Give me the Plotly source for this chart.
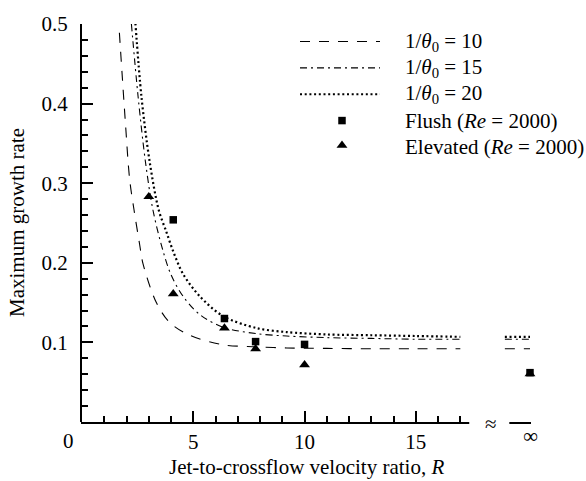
import numpy as np
import plotly.graph_objects as go

# ---------------------------------------------------------------------------
# Data: maximum growth rate vs jet-to-crossflow velocity ratio R
# ---------------------------------------------------------------------------
# Model curves for three inverse momentum thicknesses 1/theta_0
R_THETA10 = [1.68, 1.95, 2.14, 2.34, 2.59, 2.74, 3.34, 3.94, 4.84, 6.34, 7.84, 9.2, 11.0, 13.0, 15.0, 17.0]
G_THETA10 = [0.489, 0.376, 0.305, 0.266, 0.223, 0.199, 0.150, 0.125, 0.109, 0.097, 0.0945, 0.093, 0.0925, 0.092, 0.092, 0.092]

R_THETA15 = [2.22, 2.52, 2.85, 3.19, 3.64, 4.0, 4.54, 5.29, 6.34, 7.84, 9.2, 11.0, 13.0, 15.0, 17.0]
G_THETA15 = [0.500, 0.409, 0.327, 0.266, 0.215, 0.185, 0.158, 0.135, 0.119, 0.111, 0.108, 0.106, 0.105, 0.104, 0.104]

R_THETA20 = [2.40, 2.67, 3.04, 3.45, 3.79, 4.09, 4.54, 5.29, 6.34, 7.84, 9.19, 11.0, 13.0, 15.0, 17.0]
G_THETA20 = [0.501, 0.409, 0.327, 0.266, 0.239, 0.215, 0.186, 0.158, 0.133, 0.118, 0.113, 0.110, 0.109, 0.108, 0.107]

# Limit values of the curves as R -> infinity
G_INF_THETA10 = 0.092
G_INF_THETA15 = 0.104
G_INF_THETA20 = 0.107

# Simulations (np.inf marks the free-jet limit R -> infinity)
FLUSH_R = [4.1, 6.4, 7.8, 10.0, np.inf]
FLUSH_G = [0.254, 0.130, 0.101, 0.0975, 0.062]

ELEVATED_R = [3.0, 4.1, 6.4, 7.8, 10.0, np.inf]
ELEVATED_G = [0.283, 0.161, 0.118, 0.092, 0.0718, 0.0605]

# Axis ticks
X_MAJOR = [0, 5, 10, 15]
X_MAJOR_TEXT = ["", "5", "10", "15"]
X_MINOR = [1, 2, 3, 4, 6, 7, 8, 9, 11, 12, 13, 14, 16, 17]
Y_MAJOR = [0.1, 0.2, 0.3, 0.4, 0.5]
Y_MAJOR_TEXT = ["0.1", "0.2", "0.3", "0.4", "0.5"]
Y_MINOR = [k / 100 for k in range(2, 50, 2) if k % 10]

LEGEND_LABELS = [
    "1/<i>θ</i><sub>0</sub> = 10",
    "1/<i>θ</i><sub>0</sub> = 15",
    "1/<i>θ</i><sub>0</sub> = 20",
    "Flush (<i>Re</i> = 2000)",
    "Elevated (<i>Re</i> = 2000)",
]

# ---------------------------------------------------------------------------
# Layout geometry (pixels)
# ---------------------------------------------------------------------------
FIG_W, FIG_H = 586, 481
M_L, M_R, M_T, M_B = 82, 56, 14, 59
PLOT_W = FIG_W - M_L - M_R
PLOT_H = FIG_H - M_T - M_B

X_INF = 20.13            # axis position used for R = infinity
MAIN_END = 17.4          # end of the continuous part of the R axis
INF_START = 19.2         # start of the short axis piece carrying the infinity tick
TAIL_START = 19.0        # curves resume here in the infinity piece

FONT = "Liberation Serif"
FS = 21


def xpos(r):
    return X_INF if np.isinf(r) else r


def px_x(px):
    return (px - M_L) / PLOT_W


def px_y(py):
    return (FIG_H - M_B - py) / PLOT_H


DASH = "10px,9px"
DASHDOT = "7px,4px,2px,4px"
DOT = "2px,2.7px"

curves = [
    (R_THETA10, G_THETA10, G_INF_THETA10, DASH, 1.1),
    (R_THETA15, G_THETA15, G_INF_THETA15, DASHDOT, 1.1),
    (R_THETA20, G_THETA20, G_INF_THETA20, DOT, 2.2),
]

fig = go.Figure()

for r, g, g_inf, dash, w in curves:
    fig.add_trace(go.Scatter(
        x=r, y=g, mode="lines",
        line=dict(color="black", width=w, dash=dash, shape="spline", smoothing=0.9),
        hoverinfo="skip", showlegend=False,
    ))
    fig.add_trace(go.Scatter(
        x=[TAIL_START, X_INF], y=[g_inf, g_inf], mode="lines",
        line=dict(color="black", width=w, dash=dash),
        hoverinfo="skip", showlegend=False,
    ))

fig.add_trace(go.Scatter(
    x=[xpos(r) for r in ELEVATED_R], y=ELEVATED_G, mode="markers",
    marker=dict(symbol="triangle-up", size=9.5, color="black", line=dict(width=0)),
    cliponaxis=False, hoverinfo="skip", showlegend=False,
))
fig.add_trace(go.Scatter(
    x=[xpos(r) for r in FLUSH_R], y=FLUSH_G, mode="markers",
    marker=dict(symbol="square", size=7.5, color="black", line=dict(width=0)),
    cliponaxis=False, hoverinfo="skip", showlegend=False,
))

# ---------------------------------------------------------------------------
# Hand-drawn legend on an overlay axis spanning the plot area in paper units
# ---------------------------------------------------------------------------
LEG_ROWS_PX = [32, 59, 86, 113, 140]
LEG_X0, LEG_X1, LEG_MARK_X, LEG_TEXT_X = 300, 380, 342, 403

for (r, g, g_inf, dash, w), ypx in zip(curves, LEG_ROWS_PX[:3]):
    fig.add_trace(go.Scatter(
        x=[px_x(LEG_X0), px_x(LEG_X1)], y=[px_y(ypx), px_y(ypx)],
        xaxis="x2", yaxis="y2", mode="lines",
        line=dict(color="black", width=w, dash=dash),
        cliponaxis=False, hoverinfo="skip", showlegend=False,
    ))
fig.add_trace(go.Scatter(
    x=[px_x(LEG_MARK_X)], y=[px_y(LEG_ROWS_PX[3])], xaxis="x2", yaxis="y2",
    mode="markers", marker=dict(symbol="square", size=7.5, color="black"),
    cliponaxis=False, hoverinfo="skip", showlegend=False,
))
fig.add_trace(go.Scatter(
    x=[px_x(LEG_MARK_X)], y=[px_y(LEG_ROWS_PX[4]) + 0.004], xaxis="x2", yaxis="y2",
    mode="markers", marker=dict(symbol="triangle-up", size=9.5, color="black"),
    cliponaxis=False, hoverinfo="skip", showlegend=False,
))

annotations = []
for label, ypx in zip(LEGEND_LABELS, LEG_ROWS_PX):
    annotations.append(dict(
        x=px_x(LEG_TEXT_X), y=px_y(ypx), xref="paper", yref="paper",
        text=label, showarrow=False, xanchor="left", yanchor="middle",
        font=dict(family=FONT, size=FS, color="black"),
    ))

# Axis titles, shared origin label, infinity label and the axis-break mark
annotations += [
    dict(x=px_x(17), y=px_y(218), xref="paper", yref="paper", text="Maximum growth rate",
         textangle=-90, showarrow=False, xanchor="center", yanchor="middle",
         font=dict(family=FONT, size=FS, color="black")),
    dict(x=px_x(306), y=px_y(468), xref="paper", yref="paper",
         text="Jet-to-crossflow velocity ratio, <i>R</i>",
         showarrow=False, xanchor="center", yanchor="middle",
         font=dict(family=FONT, size=FS, color="black")),
    dict(x=px_x(68), y=px_y(441), xref="paper", yref="paper", text="0",
         showarrow=False, xanchor="center", yanchor="middle",
         font=dict(family=FONT, size=FS, color="black")),
    dict(x=1.0, y=px_y(436), xref="paper", yref="paper", text="∞",
         showarrow=False, xanchor="center", yanchor="middle",
         font=dict(family=FONT, size=FS, color="black")),
    dict(x=px_x(491), y=px_y(424), xref="paper", yref="paper", text="≈",
         showarrow=False, xanchor="center", yanchor="middle",
         font=dict(family=FONT, size=FS, color="black")),
]

# Broken R axis line: continuous part and the short infinity piece
axis_line = dict(type="line", xref="paper", yref="paper",
                 line=dict(color="black", width=2), layer="above")
shapes = [
    dict(axis_line, x0=-1.0 / PLOT_W, x1=MAIN_END / X_INF, y0=-1.0 / PLOT_H, y1=-1.0 / PLOT_H),
    dict(axis_line, x0=INF_START / X_INF, x1=1.0 + 1.0 / PLOT_W, y0=-1.0 / PLOT_H, y1=-1.0 / PLOT_H),
]

fig.update_layout(
    width=FIG_W, height=FIG_H,
    margin=dict(l=M_L, r=M_R, t=M_T, b=M_B, pad=0),
    paper_bgcolor="white", plot_bgcolor="white",
    font=dict(family=FONT, size=FS, color="black"),
    showlegend=False,
    xaxis=dict(
        range=[0, X_INF], showgrid=False, zeroline=False, showline=False,
        tickmode="array", tickvals=X_MAJOR + [X_INF], ticktext=X_MAJOR_TEXT + [""],
        ticks="inside", ticklen=11, tickwidth=2, tickcolor="black",
        ticklabelstandoff=5,
        tickfont=dict(family=FONT, size=FS, color="black"),
        minor=dict(tickmode="array", tickvals=X_MINOR, ticks="inside",
                   ticklen=6, tickwidth=1.5, tickcolor="black", showgrid=False),
    ),
    yaxis=dict(
        range=[0, 0.5], showgrid=False, zeroline=False,
        showline=True, linewidth=2, linecolor="black", mirror=False,
        tickmode="array", tickvals=Y_MAJOR, ticktext=Y_MAJOR_TEXT,
        ticks="inside", ticklen=11, tickwidth=2, tickcolor="black",
        ticklabelstandoff=8,
        tickfont=dict(family=FONT, size=FS, color="black"),
        minor=dict(tickmode="array", tickvals=Y_MINOR, ticks="inside",
                   ticklen=6, tickwidth=1.5, tickcolor="black", showgrid=False),
    ),
    xaxis2=dict(range=[0, 1], overlaying="x", visible=False, fixedrange=True),
    yaxis2=dict(range=[0, 1], overlaying="y", visible=False, fixedrange=True),
    annotations=annotations,
    shapes=shapes,
)

fig.write_html("out.html")
